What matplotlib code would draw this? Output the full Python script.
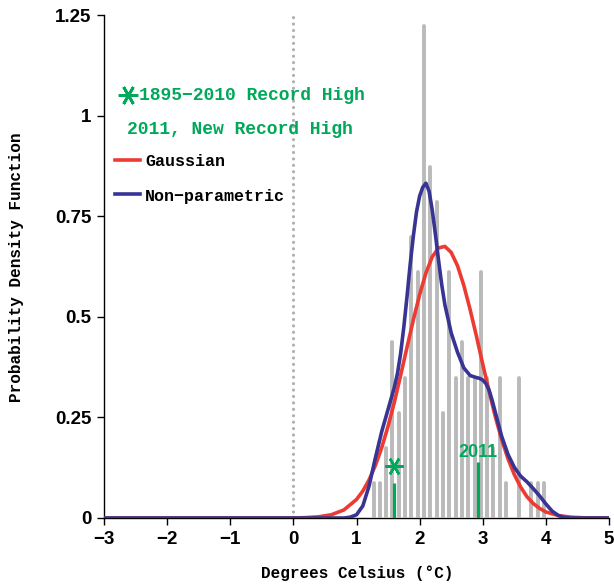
import numpy as np
import matplotlib
matplotlib.use("Agg")
import matplotlib.pyplot as plt
from matplotlib.lines import Line2D

# histogram of 1895-2010 values (bin centres in deg C, density)
binCentres = [1.27, 1.37, 1.47, 1.57, 1.67, 1.77, 1.87, 1.97, 2.07, 2.17,
              2.27, 2.37, 2.47, 2.57, 2.67, 2.77, 2.87, 2.97, 3.07, 3.17,
              3.27, 3.37, 3.47, 3.57, 3.67, 3.77, 3.87, 3.97]
binDensity = [0.087, 0.087, 0.175, 0.437, 0.262, 0.349, 0.698, 0.611, 1.222, 0.873,
              0.786, 0.262, 0.611, 0.349, 0.437, 0.349, 0.349, 0.611, 0.349, 0.175,
              0.349, 0.087, 0.0, 0.349, 0.0, 0.087, 0.087, 0.087]

# Gaussian fit curve
gaussX = [-3.0, 0.0, 0.2, 0.4, 0.6, 0.8, 1.0, 1.1, 1.2, 1.3, 1.4, 1.5, 1.6, 1.7, 1.8,
          1.9, 2.0, 2.1, 2.2, 2.3, 2.4, 2.5, 2.6, 2.7, 2.8, 2.9, 3.0, 3.1, 3.2,
          3.3, 3.4, 3.5, 3.6, 3.7, 3.8, 3.9, 4.0, 4.2, 4.4, 4.6, 5.0]
gaussY = [0.0, 0.0, 0.001, 0.003, 0.008, 0.02, 0.046, 0.067, 0.095, 0.131, 0.175,
          0.228, 0.288, 0.355, 0.424, 0.492, 0.555, 0.609, 0.649, 0.671, 0.675,
          0.66, 0.627, 0.578, 0.518, 0.452, 0.382, 0.315, 0.251, 0.195, 0.147,
          0.108, 0.077, 0.053, 0.036, 0.024, 0.015, 0.006, 0.002, 0.0005, 0.0]

# non-parametric (kernel) curve
kdeX = [-3.0, 0.8, 0.9, 1.0, 1.1, 1.2, 1.3, 1.4, 1.5, 1.6, 1.65, 1.7, 1.75, 1.8,
        1.85, 1.9, 1.95, 2.0, 2.05, 2.1, 2.15, 2.2, 2.25, 2.3, 2.35, 2.4, 2.5,
        2.6, 2.7, 2.8, 2.9, 2.95, 3.0, 3.05, 3.1, 3.15, 3.2, 3.3, 3.4, 3.5, 3.6,
        3.7, 3.8, 3.9, 4.0, 4.1, 4.2, 4.3, 4.4, 5.0]
kdeY = [0.0, 0.0, 0.002, 0.008, 0.03, 0.08, 0.15, 0.215, 0.27, 0.325, 0.36, 0.41,
        0.475, 0.55, 0.63, 0.70, 0.76, 0.80, 0.822, 0.832, 0.812, 0.765, 0.705,
        0.64, 0.58, 0.53, 0.46, 0.412, 0.373, 0.354, 0.349, 0.347, 0.343, 0.334,
        0.318, 0.292, 0.262, 0.203, 0.158, 0.126, 0.104, 0.09, 0.073, 0.055,
        0.035, 0.017, 0.006, 0.001, 0.0, 0.0]

recordOld = 1.593   # 1895-2010 record high
recordOldMark = 0.086
record2011 = 2.918
record2011Mark = 0.14

RED = '#ec3b33'
BLUE = '#383493'
GREEN = '#00a85a'
GREY = '#bababa'
MONO = 'Liberation Mono'
SANS = 'Liberation Sans'

fig = plt.figure(figsize=(6.14, 5.86), dpi=100)
ax = fig.add_axes([104 / 614, 68 / 586, 505 / 614, 503 / 586])

ax.axvline(0, color='#b0b0b0', lw=2.3, ls=(0, (0.01, 2.0)),
           dash_capstyle='round', zorder=1)

bars = ax.vlines(binCentres, 0, binDensity, color=GREY, lw=2.8, zorder=3)
bars.set_capstyle('round')

ax.plot(gaussX, gaussY, color=RED, lw=2.6, zorder=4, solid_joinstyle='round')
ax.plot(kdeX, kdeY, color=BLUE, lw=2.6, zorder=5, solid_joinstyle='round')

ax.vlines([recordOld, record2011], 0, [recordOldMark, record2011Mark],
          color=GREEN, lw=2.3, zorder=6)
ax.plot(recordOld, 0.128, marker=(6, 2, 30), ms=13, mew=1.8, color=GREEN, zorder=6)
ax.text(record2011, 0.163, '2011', color=GREEN, fontsize=13, fontweight='bold',
        family=SANS, ha='center', va='center', zorder=6)

ax.set_xlim(-3, 5)
ax.set_ylim(0, 1.25)
ax.set_xticks(range(-3, 6))
ax.set_xticklabels(['\u22123', '\u22122', '\u22121', '0', '1', '2', '3', '4', '5'])
ax.set_yticks([0, 0.25, 0.5, 0.75, 1, 1.25])
ax.set_yticklabels(['0', '0.25', '0.5', '0.75', '1', '1.25'])
for lab in ax.get_xticklabels() + ax.get_yticklabels():
    lab.set_family(SANS)
    lab.set_fontweight('bold')
    lab.set_fontsize(13.5)
ax.tick_params(direction='out', length=5, width=1.0, pad=4)
ax.spines['top'].set_visible(False)
ax.spines['right'].set_visible(False)
for s in ('left', 'bottom'):
    ax.spines[s].set_linewidth(1.0)
    ax.spines[s].set_zorder(2)

fig.text(17 / 614, 1 - 267 / 586, 'Probability Density Function', rotation=90,
         ha='center', va='center', family=MONO, fontweight='bold', fontsize=11.5)
fig.text(357 / 614, 1 - 573 / 586, 'Degrees Celsius (\u00b0C)',
         ha='center', va='center', family=MONO, fontweight='bold', fontsize=11.5)

# hand-made key in the upper left
def axfrac(px, py):
    return (px - 104) / 505, (518 - py) / 503

x0, y0 = axfrac(128, 95)
ax.plot(x0, y0, marker=(6, 2, 30), ms=14, mew=2, color=GREEN,
        transform=ax.transAxes, clip_on=False)
tx, ty = axfrac(139, 100)
ax.text(tx, ty, '1895\u22122010 Record High', transform=ax.transAxes, color=GREEN,
        family=MONO, fontweight='bold', fontsize=13, va='baseline')
tx, ty = axfrac(127, 133.5)
ax.text(tx, ty, '2011, New Record High', transform=ax.transAxes, color=GREEN,
        family=MONO, fontweight='bold', fontsize=13, va='baseline')

for py, col, name in [(160, RED, 'Gaussian'), (194, BLUE, 'Non\u2212parametric')]:
    xa, ya = axfrac(115, py)
    xb, _ = axfrac(140, py)
    ax.add_line(Line2D([xa, xb], [ya, ya], color=col, lw=2.6, transform=ax.transAxes))
    tx, ty = axfrac(145, py + 6.5)
    ax.text(tx, ty, name, transform=ax.transAxes, family=MONO, fontweight='bold',
            fontsize=12, va='baseline')

fig.savefig('out.png', dpi=100)
